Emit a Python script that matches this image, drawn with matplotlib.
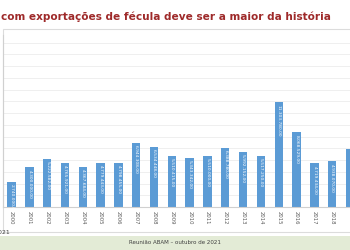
import matplotlib.pyplot as plt
from matplotlib.patches import Rectangle

# Exportações de fécula por ano
years = ['2000', '2001', '2002', '2003', '2004', '2005', '2006', '2007', '2008', '2009',
         '2010', '2011', '2012', '2013', '2014', '2015', '2016', '2017', '2018', '2019']
values = [2740000, 4300000, 5222582, 4765921, 4367684, 4779443, 4798455, 6944308, 6534448, 5510415,
          5343342, 5510000, 6388780, 5992152, 5517250, 11303780, 8068529, 4719434, 4938070, 6300000]

title = 'com exportações de fécula deve ser a maior da história'
footer = 'Reunião ABAM – outubro de 2021'


def fmt_br(v):
    return f'{v:,.2f}'.replace(',', 'X').replace('.', ',').replace('X', '.')


fig = plt.figure(figsize=(3.5, 2.5), dpi=100)
fig.patch.set_facecolor('white')

# faixa verde do rodapé
fig.add_artist(Rectangle((0, 0), 1, 14 / 250, transform=fig.transFigure,
                         facecolor='#e3ebd6', edgecolor='none', zorder=0))
# moldura do gráfico
fig.add_artist(Rectangle((3 / 350, 18 / 250), 1.0, 203 / 250, transform=fig.transFigure,
                         facecolor='none', edgecolor='#dcdcdc', lw=0.8, zorder=0))

ax = fig.add_axes([3 / 350, 1 - 207 / 250, 347 / 350, 172 / 250])
x = list(range(len(years)))
bars = ax.bar(x, values, width=0.47, color='#5b9bd5', zorder=2)
for xi, v in zip(x, values):
    ax.text(xi, v - 250000, fmt_br(v), rotation=270, ha='center', va='top',
            fontsize=3.2, color='white', zorder=3)

ax.set_xlim(-0.48, 18.8)
ax.set_ylim(0, 18600000)
ax.set_yticks([i * 1270000 for i in range(1, 15)])
ax.set_yticklabels([])
ax.tick_params(axis='y', length=0)
ax.grid(axis='y', color='#ececec', lw=0.6, zorder=0)
ax.set_xticks(x)
ax.set_xticklabels(years, rotation=270, fontsize=3.8, color='#595959')
ax.tick_params(axis='x', length=0, pad=3)
for s in ['top', 'right']:
    ax.spines[s].set_visible(False)
ax.spines['left'].set_color('#d0d0d0')
ax.spines['bottom'].set_color('#d0d0d0')
ax.set_facecolor('none')

fig.text(1 / 350, 1 - 17 / 250, title, fontsize=7.6, fontweight='bold',
         color='#9e2a2a', va='center', ha='left')
fig.text(10 / 350, 1 - 232 / 250, '2021', fontsize=4.5, color='#404040',
         ha='right', va='center')
fig.text(175 / 350, 1 - 243 / 250, footer, fontsize=4, color='#404040',
         ha='center', va='center')

plt.savefig('out.png', dpi=100)
